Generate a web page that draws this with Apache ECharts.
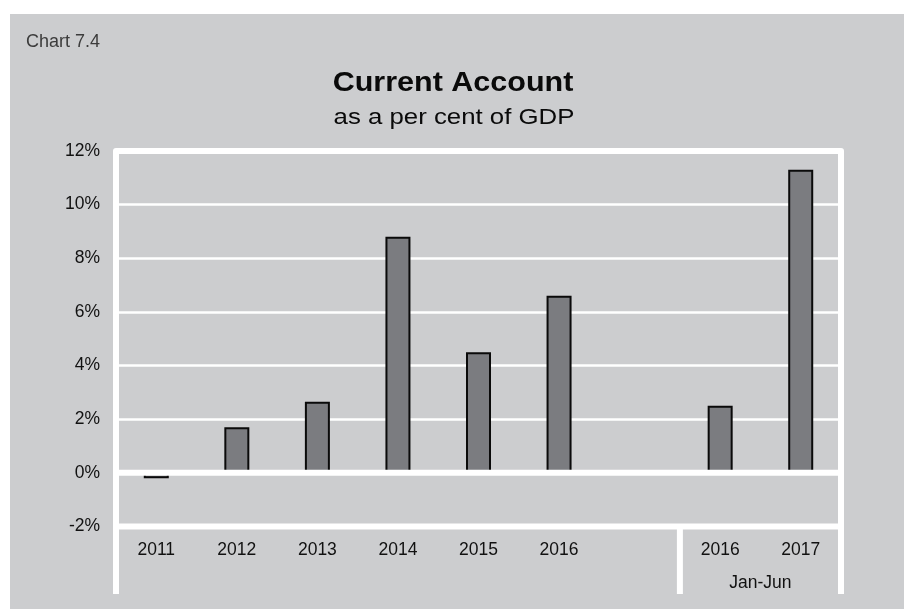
<!DOCTYPE html>
<html>
<head>
<meta charset="utf-8">
<script src="https://cdn.jsdelivr.net/npm/echarts@6/dist/echarts.min.js"></script>
<style>
  html, body { margin: 0; padding: 0; background: #ffffff; }
  #chart { width: 904px; height: 609px; }
</style>
</head>
<body>
<div id="chart"></div>
<script>
// Current account balance, per cent of GDP
const categories = ['2011', '2012', '2013', '2014', '2015', '2016', '', '2016', '2017'];
const currentAccount = [-0.2, 1.7, 2.65, 8.8, 4.5, 6.6, null, 2.5, 11.3];
const yMin = -2, yMax = 12, yStep = 2;
const halfYearLabel = 'Jan-Jun';
const halfYearFrom = 7; // first category of the Jan-Jun group

const FONT = '"Liberation Sans", Arial, Helvetica, sans-serif';
const PANEL = '#cccdcf';

const chart = echarts.init(document.getElementById('chart'), null, { renderer: 'canvas' });

chart.setOption({
  backgroundColor: PANEL,
  animation: false,
  textStyle: { fontFamily: FONT },
  grid: { left: 116, right: 63, top: 151, bottom: 82.5, containLabel: false },
  xAxis: {
    type: 'category',
    data: categories,
    axisLine: { show: false, onZero: false },
    axisTick: { show: false },
    axisLabel: { color: '#111', fontSize: 17.5, fontFamily: FONT, margin: 15, interval: 0 },
    splitLine: { show: false }
  },
  yAxis: {
    type: 'value',
    min: yMin, max: yMax, interval: yStep,
    axisLine: { show: false },
    axisTick: { show: false },
    axisLabel: { color: '#111', fontSize: 17.5, fontFamily: FONT, margin: 16, formatter: '{value}%' },
    splitLine: { show: true, lineStyle: { color: '#ffffff', width: 2.5 } }
  },
  series: [{
    type: 'bar',
    data: currentAccount,
    barWidth: 25,
    itemStyle: { color: '#7b7c80', borderColor: '#0a0a0a', borderWidth: 2 }
  }]
});

// Frame, zero line, baseline and group divider, placed from the axis scales
function drawFrame() {
  const yTop = chart.convertToPixel({ yAxisIndex: 0 }, yMax);
  const yZero = chart.convertToPixel({ yAxisIndex: 0 }, 0);
  const yBottom = chart.convertToPixel({ yAxisIndex: 0 }, yMin);
  const c0 = chart.convertToPixel({ xAxisIndex: 0 }, 0);
  const c1 = chart.convertToPixel({ xAxisIndex: 0 }, 1);
  const band = c1 - c0;
  const xLeft = c0 - band / 2;
  const xRight = chart.convertToPixel({ xAxisIndex: 0 }, categories.length - 1) + band / 2;
  const xDivider = chart.convertToPixel({ xAxisIndex: 0 }, halfYearFrom) - band / 2;
  const xHalfMid = (chart.convertToPixel({ xAxisIndex: 0 }, halfYearFrom) +
                    chart.convertToPixel({ xAxisIndex: 0 }, halfYearFrom + 1)) / 2;
  const frameFoot = yBottom + 67.5;
  const white = { stroke: '#ffffff', lineWidth: 6 };

  chart.setOption({
    graphic: [
      { type: 'rect', z: 100, shape: { x: 0, y: 0, width: 904, height: 14 }, style: { fill: '#ffffff' } },
      { type: 'rect', z: 100, shape: { x: 0, y: 0, width: 10, height: 609 }, style: { fill: '#ffffff' } },
      { type: 'text', z: 100, x: 26, y: 42.5,
        style: { text: 'Chart 7.4', font: '18px ' + FONT, fill: '#3c3c3c', textAlign: 'left', textVerticalAlign: 'middle' } },
      { type: 'text', z: 100, x: 453, y: 84, scaleX: 1.13,
        style: { text: 'Current Account', font: 'bold 27px ' + FONT, fill: '#0a0a0a', textAlign: 'center', textVerticalAlign: 'middle' } },
      { type: 'text', z: 100, x: 454, y: 118, scaleX: 1.2,
        style: { text: 'as a per cent of GDP', font: '21.5px ' + FONT, fill: '#0a0a0a', textAlign: 'center', textVerticalAlign: 'middle' } },
      { type: 'polyline', z: 100,
        shape: { points: [[xLeft, frameFoot], [xLeft, yTop], [xRight, yTop], [xRight, frameFoot]] },
        style: Object.assign({ fill: null, lineJoin: 'round' }, white) },
      { type: 'line', z: 100, shape: { x1: xLeft, y1: yZero, x2: xRight, y2: yZero }, style: white },
      { type: 'line', z: 100, shape: { x1: xLeft, y1: yBottom, x2: xRight, y2: yBottom }, style: white },
      { type: 'line', z: 100, shape: { x1: xDivider, y1: yBottom, x2: xDivider, y2: frameFoot }, style: white },
      { type: 'text', z: 100, x: xHalfMid, y: 583,
        style: { text: halfYearLabel, font: '17.5px ' + FONT, fill: '#111', textAlign: 'center', textVerticalAlign: 'middle' } }
    ]
  });
}
drawFrame();
</script>
</body>
</html>
